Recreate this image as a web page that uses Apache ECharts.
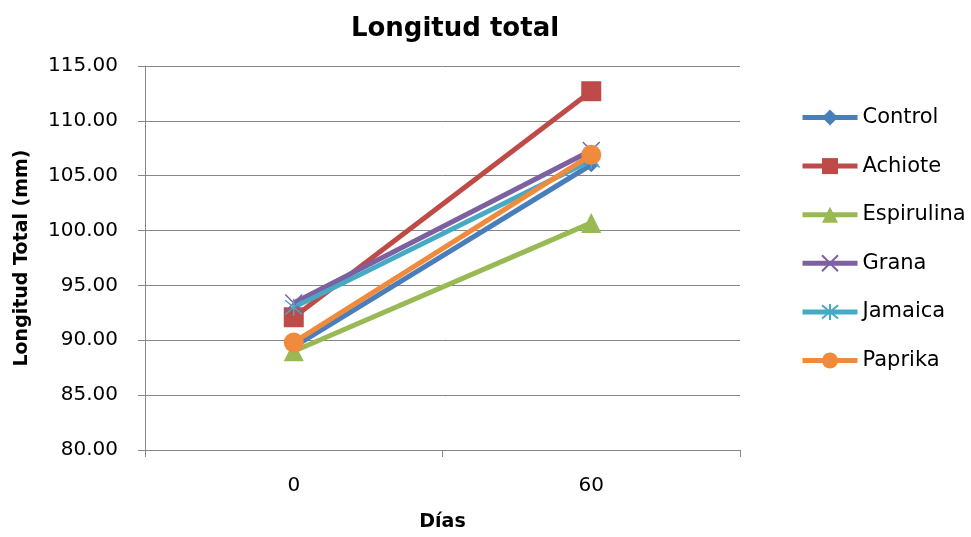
<!DOCTYPE html>
<html><head><meta charset="utf-8">
<script src="https://cdn.jsdelivr.net/npm/echarts@6/dist/echarts.min.js"></script>
<style>html,body{margin:0;padding:0;background:#fff}#c{width:971px;height:537px}</style>
</head><body><div id="c"></div>
<script>
const categories = ['0', '60'];
const control = [89.4, 106.0];
const achiote = [92.1, 112.7];
const espirulina = [89.0, 100.7];
const grana = [93.4, 107.3];
const jamaica = [93.0, 106.4];
const paprika = [89.8, 106.9];

const xPath = 'path://M0,0L10,10M10,0L0,10';
const starPath = 'path://M0,0L10,10M10,0L0,10M5,-1L5,11';
const FONT = 'DejaVu Sans';

function mk(name, data, color, symbol, size, extra) {
  return Object.assign({
    name: name, type: 'line', data: data,
    symbol: symbol, symbolSize: size,
    lineStyle: { color: color, width: 5 },
    itemStyle: { color: color },
    emphasis: { disabled: true },
    z: 2
  }, extra || {});
}

const chart = echarts.init(document.getElementById('c'));
chart.setOption({
  animation: false,
  backgroundColor: '#fff',
  title: {
    text: 'Longitud total', left: 455, top: 16, textAlign: 'center', padding: 0,
    textStyle: { fontFamily: FONT, fontWeight: 'bold', fontSize: 26, color: '#000' }
  },
  grid: { left: 145, width: 595, top: 66, height: 385, containLabel: false },
  legend: {
    orient: 'vertical', left: 800, top: 107, padding: 0,
    itemWidth: 55, itemHeight: 20, itemGap: 27.6,
    lineStyle: { width: 5 },
    textStyle: { fontFamily: FONT, fontSize: 21, color: '#000', lineHeight: 20 },
    data: ['Control', 'Achiote', 'Espirulina', 'Grana', 'Jamaica', 'Paprika']
  },
  xAxis: {
    type: 'category', data: categories, boundaryGap: true,
    name: 'Días', nameLocation: 'middle', nameGap: 63,
    nameTextStyle: { fontFamily: FONT, fontWeight: 'bold', fontSize: 19, color: '#000' },
    axisLine: { lineStyle: { color: '#868686', width: 1 } },
    axisTick: { show: true, length: 7, lineStyle: { color: '#868686' } },
    axisLabel: { fontFamily: FONT, fontSize: 20, color: '#000', margin: 26 },
    splitLine: { show: false }
  },
  yAxis: {
    type: 'value', min: 80, max: 115, interval: 5,
    name: 'Longitud Total (mm)', nameLocation: 'middle', nameGap: 113, nameRotate: 90,
    nameTextStyle: { fontFamily: FONT, fontWeight: 'bold', fontSize: 19, color: '#000' },
    axisLine: { show: true, lineStyle: { color: '#868686', width: 1 } },
    axisTick: { show: true, length: 7, lineStyle: { color: '#868686' } },
    axisLabel: { fontFamily: FONT, fontSize: 20, color: '#000', margin: 27,
      formatter: v => v.toFixed(2) },
    splitLine: { lineStyle: { color: '#868686', width: 1 } }
  },
  series: [
    mk('Control', control, '#4A7EBB', 'diamond', 15),
    mk('Achiote', achiote, '#BE4B48', 'rect', 20),
    mk('Espirulina', espirulina, '#98B954', 'triangle', 20),
    mk('Grana', grana, '#7D60A0', xPath, 17, { itemStyle: { color: 'none', borderColor: '#7D60A0', borderWidth: 1.5 } }),
    mk('Jamaica', jamaica, '#46AAC5', starPath, 17, { itemStyle: { color: 'none', borderColor: '#46AAC5', borderWidth: 1.5 } }),
    mk('Paprika', paprika, '#F08A3C', 'circle', 20)
  ]
});
</script></body></html>
